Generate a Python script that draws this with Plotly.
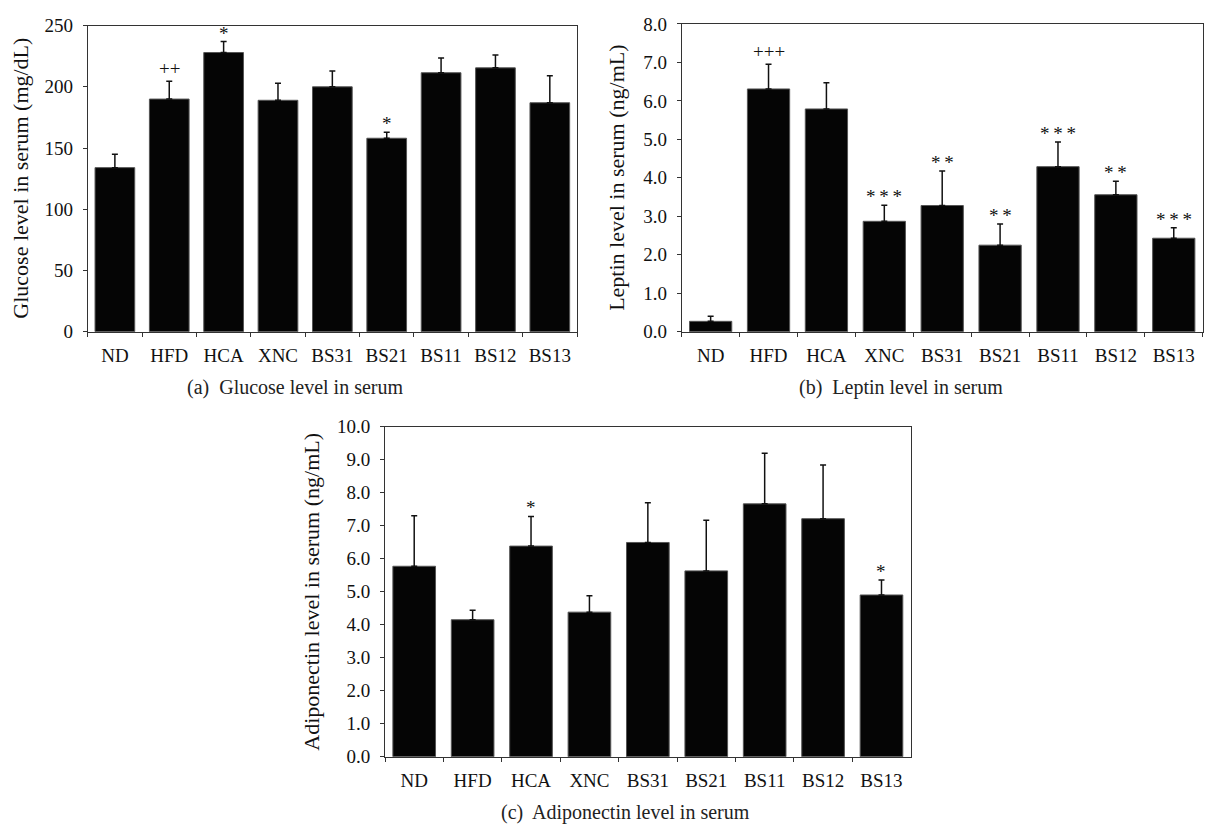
import plotly.graph_objects as go

groups = ["ND", "HFD", "HCA", "XNC", "BS31", "BS21", "BS11", "BS12", "BS13"]

glucose = [134, 190, 228, 189, 200, 158, 211.5, 215.5, 187]
glucose_sd = [11, 14.5, 9, 14, 13, 5, 12, 10.5, 22]
glucose_sig = ["", "++", "*", "", "", "*", "", "", ""]

leptin = [0.27, 6.31, 5.79, 2.87, 3.28, 2.25, 4.29, 3.56, 2.43]
leptin_sd = [0.13, 0.64, 0.68, 0.42, 0.90, 0.55, 0.64, 0.35, 0.27]
leptin_sig = ["", "+++", "", "***", "**", "**", "***", "**", "***"]

adipo = [5.77, 4.15, 6.38, 4.38, 6.49, 5.63, 7.66, 7.21, 4.90]
adipo_sd = [1.53, 0.29, 0.90, 0.50, 1.20, 1.53, 1.53, 1.63, 0.45]
adipo_sig = ["", "", "*", "", "", "", "", "", "*"]

W, H = 1209, 837
FONT = "Liberation Serif"
AX = "#333333"

panels = [
    dict(vals=glucose, sd=glucose_sd, sig=glucose_sig, x=(87.7, 577), y=(16, 330),
         rng=[0, 250], dtick=50, fmt="d", title="Glucose level in serum (mg/dL)",
         tx=21, cap="(a)  Glucose level in serum", cx=295, cy=387),
    dict(vals=leptin, sd=leptin_sd, sig=leptin_sig, x=(681.7, 1202.7), y=(14.3, 330),
         rng=[0, 8], dtick=1, fmt=".1f", title="Leptin level in serum (ng/mL)",
         tx=617, cap="(b)  Leptin level in serum", cx=901, cy=387),
    dict(vals=adipo, sd=adipo_sd, sig=adipo_sig, x=(385, 910.7), y=(427.3, 766),
         rng=[0, 10], dtick=1, fmt=".1f", title="Adiponectin level in serum (ng/mL)",
         tx=312, cap="(c)  Adiponectin level in serum", cx=625, cy=823),
]

fig = go.Figure()
annotations = []
layout = {}
for i, p in enumerate(panels, start=1):
    sfx = "" if i == 1 else str(i)
    fig.add_trace(go.Bar(
        x=groups, y=p["vals"], width=0.73,
        marker=dict(color="#050505", line=dict(color="#555555", width=1)),
        error_y=dict(type="data", symmetric=False, array=p["sd"],
                     arrayminus=[0] * len(p["sd"]), color="#111111",
                     thickness=1.5, width=3),
        xaxis="x" + sfx, yaxis="y" + sfx, showlegend=False,
    ))
    x0, x1 = p["x"]
    y0, y1 = p["y"]
    layout["xaxis" + sfx] = dict(
        domain=[x0 / W, x1 / W], anchor="y" + sfx, type="category",
        range=[-0.5, 8.5], showline=True, linecolor=AX, linewidth=1, mirror=True,
        ticks="outside", ticklen=4, tickcolor=AX, tickson="boundaries",
        tickfont=dict(family=FONT, size=19, color="#111"), ticklabelstandoff=6,
        showgrid=False, zeroline=False, fixedrange=True,
    )
    layout["yaxis" + sfx] = dict(
        domain=[1 - y1 / H, 1 - y0 / H], anchor="x" + sfx,
        range=p["rng"], dtick=p["dtick"], tick0=0, tickformat=p["fmt"],
        showline=True, linecolor=AX, linewidth=1, mirror=True,
        ticks="outside", ticklen=4, tickcolor=AX,
        tickfont=dict(family=FONT, size=19, color="#111"), ticklabelstandoff=6,
        showgrid=False, zeroline=False, fixedrange=True,
    )
    for g, v, s, t in zip(groups, p["vals"], p["sd"], p["sig"]):
        if t:
            star = "*" in t
            annotations.append(dict(
                x=g, y=v + s, xref="x" + sfx, yref="y" + sfx,
                text="\u2009".join(t) if star else t,
                showarrow=False, yanchor="bottom", yshift=-4 if star else 0,
                font=dict(family=FONT, size=19, color="#111"),
            ))
    annotations.append(dict(
        x=p["tx"] / W, y=1 - (y0 + y1) / 2 / H, xref="paper", yref="paper",
        text=p["title"], textangle=-90, showarrow=False,
        xanchor="center", yanchor="middle",
        font=dict(family=FONT, size=22, color="#111"),
    ))
    annotations.append(dict(
        x=p["cx"] / W, y=1 - p["cy"] / H, xref="paper", yref="paper",
        text=p["cap"], showarrow=False, xanchor="center", yanchor="middle",
        font=dict(family=FONT, size=20, color="#222"),
    ))

fig.update_layout(
    width=W, height=H, margin=dict(l=0, r=0, t=0, b=0),
    paper_bgcolor="white", plot_bgcolor="white",
    annotations=annotations, bargap=0.27, **layout,
)
fig.write_html("out.html", config={"displayModeBar": False},
               post_script="document.body.style.margin='0';document.body.style.overflow='hidden';")
